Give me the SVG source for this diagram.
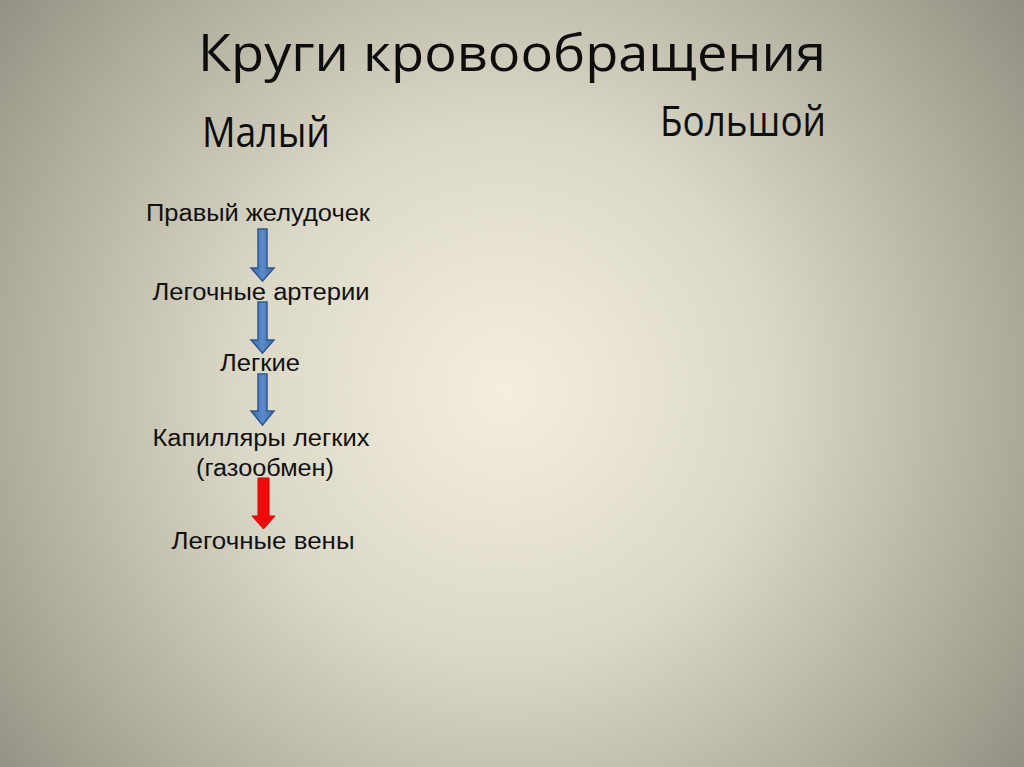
<svg xmlns="http://www.w3.org/2000/svg" width="1024" height="767" viewBox="0 0 1024 767">
<defs>
<radialGradient id="bg" cx="505" cy="390" r="660" gradientUnits="userSpaceOnUse">
<stop offset="0" stop-color="#f4efdd"/>
<stop offset="0.4" stop-color="#dcd8c8"/>
<stop offset="0.8" stop-color="#a9a797"/>
<stop offset="1" stop-color="#8f8d80"/>
</radialGradient>
<linearGradient id="blue" x1="0" y1="0" x2="1" y2="0">
<stop offset="0" stop-color="#3d6ba8"/>
<stop offset="0.5" stop-color="#5a8acb"/>
<stop offset="1" stop-color="#3d6ba8"/>
</linearGradient>
<style>
.t{font-family:"Open Sans","Noto Sans","DejaVu Sans",sans-serif;fill:#0d0d0d}
.s{font-family:"Liberation Sans",Arial,sans-serif;font-size:23.5px;fill:#111;text-anchor:middle}
.ab{fill:url(#blue);stroke:#2f5a8e;stroke-width:1.5}
.ar{fill:#f00a0a;stroke:#d00000;stroke-width:1}
</style>
</defs>
<rect width="1024" height="767" fill="url(#bg)"/>
<g id="title"><text class="t" x="198" y="71" font-size="52" textLength="628" lengthAdjust="spacingAndGlyphs">Круги кровообращения</text></g>
<g id="maly"><text class="t" x="202" y="147" font-size="42" textLength="128" lengthAdjust="spacingAndGlyphs">Малый</text></g>
<g id="bolshoy"><text class="t" x="660" y="136" font-size="42" textLength="166" lengthAdjust="spacingAndGlyphs">Большой</text></g>
<g id="n1"><text class="s" x="258" y="221" textLength="224" lengthAdjust="spacingAndGlyphs">Правый желудочек</text></g>
<g id="n2"><text class="s" x="261" y="300" textLength="217" lengthAdjust="spacingAndGlyphs">Легочные артерии</text></g>
<g id="n3"><text class="s" x="260" y="371" textLength="80" lengthAdjust="spacingAndGlyphs">Легкие</text></g>
<g id="n4"><text class="s" x="261" y="446" textLength="217" lengthAdjust="spacingAndGlyphs">Капилляры легких</text><text class="s" x="265" y="476" textLength="138" lengthAdjust="spacingAndGlyphs">(газообмен)</text></g>
<g id="n5"><text class="s" x="263" y="549" textLength="183" lengthAdjust="spacingAndGlyphs">Легочные вены</text></g>
<g id="connectors">
<path class="ab" d="M258 229 H267 V268 H274 L262.5 281 L251 268 H258 Z"/>
<path class="ab" d="M258 302 H267 V340 H274 L262.5 353 L251 340 H258 Z"/>
<path class="ab" d="M258 374 H267 V411 H274 L262.5 425 L251 411 H258 Z"/>
<path class="ar" d="M258 478 H269 V516 H275 L263.5 529 L252 516 H258 Z"/>
</g>
</svg>
